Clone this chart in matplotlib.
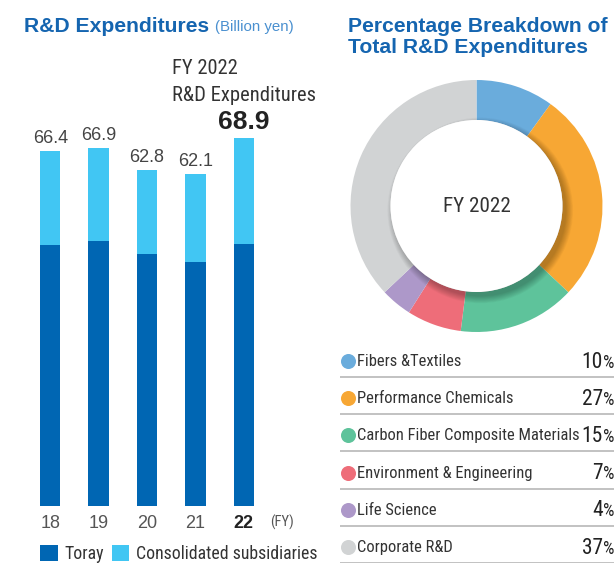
import matplotlib
matplotlib.use("Agg")
import matplotlib.pyplot as plt
from matplotlib import font_manager
from matplotlib.patches import Circle

# ---------------- data ----------------
years = ["18", "19", "20", "21", "22"]
totals = [66.4, 66.9, 62.8, 62.1, 68.9]
toray = [48.8, 49.5, 47.1, 45.6, 49.1]
consolidated = [round(t - a, 1) for t, a in zip(totals, toray)]

segments = ["Fibers &Textiles", "Performance Chemicals", "Carbon Fiber Composite Materials",
            "Environment & Engineering", "Life Science", "Corporate R&D"]
shares = [10, 27, 15, 7, 4, 37]
seg_colors = ["#6aacdc", "#f7a734", "#5ec39b", "#ee6d79", "#ad98c9", "#d1d3d4"]

TORAY_C = "#0066b3"
CONS_C = "#41c6f3"
TITLE_C = "#1565b0"

W, H = 614, 563
names = {f.name for f in font_manager.fontManager.ttflist}
NARROW = "DejaVu Sans"
for cand in ["Roboto Condensed", "Liberation Sans Narrow", "Archivo Narrow", "PT Sans Narrow",
             "Fira Sans Condensed", "IBM Plex Sans Condensed", "Nimbus Sans Narrow",
             "Encode Sans Condensed", "Open Sans Condensed"]:
    if cand in names:
        NARROW = cand
        break
REG = "Liberation Sans"

fig = plt.figure(figsize=(W / 100, H / 100), dpi=100)


def fx(x):
    return x / W


def fy(y):
    return 1 - y / H


# ---------------- titles ----------------
fig.text(fx(24), fy(31.5), "R&D Expenditures", family=REG, weight="bold", fontsize=15.2,
         color=TITLE_C, ha="left", va="baseline")
fig.text(fx(215), fy(31.5), "(Billion yen)", family=REG, fontsize=10.8,
         color="#4a90d0", ha="left", va="baseline")
fig.text(fx(348), fy(31.5), "Percentage Breakdown of", family=REG, weight="bold", fontsize=15.2,
         color=TITLE_C, ha="left", va="baseline")
fig.text(fx(348), fy(53), "Total R&D Expenditures", family=REG, weight="bold", fontsize=15.2,
         color=TITLE_C, ha="left", va="baseline")

# ---------------- bar chart ----------------
bottom_px = 505.7
px_per_unit = 5.34
ymax = 80
ax = fig.add_axes([fx(26), 1 - bottom_px / H, 242 / W, ymax * px_per_unit / H])
x = list(range(len(years)))
b1 = ax.bar(x, toray, width=0.42, color=TORAY_C, label="Toray")
b2 = ax.bar(x, consolidated, bottom=toray, width=0.42, color=CONS_C, label="Consolidated subsidiaries")
ax.set_xlim(-0.5, 4.5)
ax.set_ylim(0, ymax)
for s in ax.spines.values():
    s.set_visible(False)
ax.set_yticks([])
ax.set_xticks(x)
ax.set_xticklabels(years, family=REG, fontsize=13, color="#555555")
ax.get_xticklabels()[-1].set_fontweight("bold")
ax.get_xticklabels()[-1].set_color("#222222")
ax.tick_params(axis="x", length=0, pad=6.5)
ax.patch.set_alpha(0)

for i, t in enumerate(totals[:-1]):
    ax.text(i, t + 1.6, f"{t:.1f}", family=REG, fontsize=13, color="#444444",
            ha="center", va="baseline")
ax.text(4, totals[-1] + 1.6, f"{totals[-1]:.1f}", family=REG, fontsize=19, weight="bold",
        color="#222222", ha="center", va="baseline")
fig.text(fx(172), fy(74), "FY 2022", family=NARROW, fontsize=14.8, color="#333333",
         ha="left", va="baseline")
fig.text(fx(172), fy(100.7), "R&D Expenditures", family=NARROW, fontsize=14.8, color="#333333",
         ha="left", va="baseline")
fig.text(fx(270), fy(527), "(FY)", family=NARROW, fontsize=10.5, color="#555555",
         ha="left", va="baseline")

leg = fig.legend(handles=[b1, b2], loc="upper left", bbox_to_anchor=(fx(40), fy(545)),
                 ncol=2, frameon=False, prop={"family": NARROW, "size": 12.8},
                 handlelength=1.0, handleheight=1.0, handletextpad=0.4,
                 columnspacing=0.4, borderpad=0, borderaxespad=0)
for t in leg.get_texts():
    t.set_color("#333333")

# ---------------- donut ----------------
cx, cy, R = 476.5, 206, 126
ring = 40 / 126
r_in = 1 - ring
pax = fig.add_axes([fx(cx - R), fy(cy + R), 2 * R / W, 2 * R / H])
pax.pie(shares, colors=seg_colors, startangle=90, counterclock=False, radius=1,
        wedgeprops=dict(width=ring, linewidth=0))
# soft shadow of the inner white disc onto the ring
for k in range(10):
    pax.add_patch(Circle((0.03, -0.035), r_in + 0.006 * k, color="black", alpha=0.028,
                         linewidth=0, zorder=3))
pax.add_patch(Circle((0, 0), r_in, color="white", linewidth=0, zorder=4))
pax.set_xlim(-1, 1)
pax.set_ylim(-1, 1)
pax.set_axis_off()
pax.text(0, 0, "FY 2022", family=NARROW, fontsize=15.2, color="#333333",
         ha="center", va="center", zorder=5)

# ---------------- right legend table ----------------
lax = fig.add_axes([fx(340), fy(563), (W - 340) / W, (563 - 340) / H])
lax.set_xlim(340, W)
lax.set_ylim(563, 340)
lax.set_axis_off()
row0, step = 361, 37.2
for i, (name, val, col) in enumerate(zip(segments, shares, seg_colors)):
    yc = row0 + i * step
    lax.scatter([347.5], [yc], s=117, color=col, linewidths=0, clip_on=False)
    lax.text(357, yc + 0.5, name, family=NARROW, fontsize=11.9, color="#333333",
             ha="left", va="center")
    lax.text(603, yc + 6.5, f"{val}", family=NARROW, fontsize=15.5, color="#222222",
             ha="right", va="baseline")
    lax.text(603.5, yc + 6.5, "%", family=NARROW, fontsize=13, color="#222222",
             ha="left", va="baseline", clip_on=False)
    lax.hlines(yc + 16, 340, W, color="#bdbdbd", linewidth=1.3)

fig.savefig("out.png", dpi=100)
